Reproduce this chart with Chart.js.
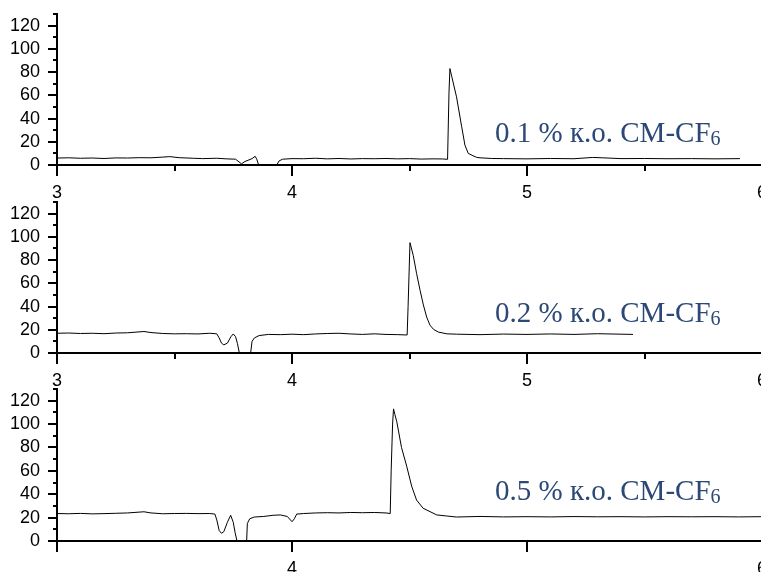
<!DOCTYPE html>
<html lang="ru">
<head>
<meta charset="UTF-8">
<title>Хроматограммы</title>
<script src="https://cdn.jsdelivr.net/npm/chart.js"></script>
<style>
  html, body { margin: 0; padding: 0; background: #fff; }
  body { width: 761px; height: 572px; overflow: hidden; position: relative; }
  canvas { position: absolute; left: 0; }
</style>
</head>
<body>
<canvas id="panel1" width="768" height="200" style="top:0px"></canvas>
<canvas id="panel2" width="768" height="200" style="top:188px"></canvas>
<canvas id="panel3" width="768" height="197" style="top:375px"></canvas>

<script>
// подписи панелей
var labels = ['0.1 % к.о. СМ-CF', '0.2 % к.о. СМ-CF', '0.5 % к.о. СМ-CF'];
var labelSub = '6';

// шкалы
var xMin = 3, xMax = 6;
var yMax = 130;
var yLabelTicks = [0, 20, 40, 60, 80, 100, 120];

// 0.1 %
var x1 = [3.00, 3.05, 3.10, 3.15, 3.20, 3.25, 3.30, 3.35, 3.40, 3.45, 3.48, 3.52, 3.58, 3.62, 3.68, 3.72, 3.76,
  3.785, 3.80, 3.83, 3.843, 3.85, 3.858, 3.87, 3.92, 3.935, 3.945, 3.96,
  4.00, 4.05, 4.10, 4.15, 4.20, 4.25, 4.30, 4.35, 4.40, 4.45, 4.50, 4.55, 4.60, 4.64, 4.662,
  4.668, 4.672, 4.68, 4.70, 4.722, 4.736, 4.75, 4.77, 4.785, 4.80, 4.85, 4.90,
  5.00, 5.10, 5.20, 5.28, 5.32, 5.40, 5.50, 5.60, 5.70, 5.80, 5.906];
var y1 = [6.0, 6.2, 5.8, 6.0, 5.6, 6.1, 6.0, 6.3, 6.2, 6.8, 7.2, 6.3, 5.8, 5.5, 5.8, 5.3, 5.0,
  1.0, 3.0, 5.5, 7.5, 5.0, 0, -8, -8, 0, 3.5, 5.0,
  5.5, 5.4, 5.8, 5.3, 5.6, 5.2, 5.5, 5.4, 5.6, 5.3, 5.5, 5.1, 5.3, 5.2, 4.9,
  62, 83, 76, 58.7, 33, 17, 10, 8, 6.6, 6.2, 5.6, 5.5,
  5.3, 5.6, 5.4, 6.5, 6.2, 5.5, 5.6, 5.4, 5.5, 5.3, 5.5];

// 0.2 %
var x2 = [3.00, 3.05, 3.10, 3.15, 3.20, 3.25, 3.30, 3.37, 3.40, 3.45, 3.50, 3.55, 3.60, 3.65, 3.68,
  3.69, 3.70, 3.71, 3.725, 3.74, 3.75, 3.76, 3.768, 3.776, 3.79, 3.815, 3.824, 3.83, 3.84, 3.86, 3.90,
  3.95, 4.00, 4.05, 4.10, 4.15, 4.20, 4.25, 4.30, 4.35, 4.40, 4.45, 4.49,
  4.494, 4.502, 4.516, 4.53, 4.545, 4.559, 4.573, 4.587, 4.602, 4.623, 4.659,
  4.70, 4.80, 4.90, 5.00, 5.10, 5.20, 5.30, 5.40, 5.451];
var y2 = [17.0, 17.2, 16.8, 17.0, 16.6, 17.2, 17.4, 18.5, 17.6, 16.8, 16.5, 16.6, 16.4, 17.0, 16.5,
  13, 8.5, 7, 8.5, 14, 16.4, 14, 8, 0, -10, -10, 0, 10, 13, 15, 16,
  15.8, 16.2, 15.8, 16.4, 16.8, 17.0, 16.4, 16.0, 16.5, 16.0, 15.8, 15.5,
  40, 95, 84, 68.6, 54, 41.4, 31, 24, 20.4, 18, 16.5,
  16.2, 15.8, 16.3, 16.0, 16.4, 16.0, 16.6, 16.2, 16.0];

// 0.5 %
var x3 = [3.00, 3.05, 3.10, 3.15, 3.20, 3.25, 3.30, 3.37, 3.40, 3.45, 3.50, 3.55, 3.60, 3.65, 3.672,
  3.68, 3.69, 3.70, 3.71, 3.725, 3.739, 3.75, 3.758, 3.766, 3.78, 3.80, 3.807, 3.81, 3.82, 3.84, 3.88,
  3.92, 3.95, 3.98, 4.00, 4.01, 4.02, 4.05, 4.10, 4.15, 4.20, 4.25, 4.30, 4.35, 4.40, 4.418,
  4.422, 4.428, 4.432, 4.438, 4.446, 4.466, 4.488, 4.509, 4.53, 4.558, 4.616, 4.657,
  4.70, 4.80, 4.90, 5.00, 5.10, 5.20, 5.30, 5.40, 5.50, 5.60, 5.70, 5.80, 5.90, 6.00];
var y3 = [23.5, 23.3, 23.6, 23.2, 23.4, 23.7, 24.0, 25.0, 24.0, 23.3, 23.5, 23.6, 23.4, 23.5, 23.0,
  18, 9, 6.6, 8, 16, 22, 16, 7, 0, -10, -10, 0, 15, 19, 20.5, 21,
  22, 22.3, 21, 16.5, 19, 23, 23.5, 24.0, 24.2, 24.0, 24.4, 24.2, 24.4, 24.0, 23.5,
  60, 100, 113, 108, 102, 80, 64, 47, 35, 28, 22.3, 21.4,
  20.5, 21.0, 20.6, 20.8, 20.6, 20.9, 20.7, 20.8, 20.6, 20.8, 20.7, 20.8, 20.6, 20.8];

function toPoints(xs, ys) {
  var pts = [];
  for (var i = 0; i < xs.length; i++) {
    pts.push({ x: xs[i], y: ys[i] });
  }
  return pts;
}

// засечки осей (большие и малые разной длины)
var tickMarks = {
  id: 'tickMarks',
  afterDraw: function (chart, args, opts) {
    var ctx = chart.ctx;
    var xs = chart.scales.x, ys = chart.scales.y;
    var area = chart.chartArea;
    ctx.save();
    ctx.strokeStyle = '#000';
    ctx.lineWidth = 2;
    ctx.beginPath();
    ys.ticks.forEach(function (t) {
      var py = Math.round(ys.getPixelForValue(t.value));
      var len = yLabelTicks.indexOf(t.value) >= 0 ? 9 : 4;
      ctx.moveTo(area.left - len, py);
      ctx.lineTo(area.left, py);
    });
    xs.ticks.forEach(function (t) {
      var px = Math.round(xs.getPixelForValue(t.value));
      var major = Math.abs(t.value - Math.round(t.value)) < 1e-6;
      if (!major && !opts.minor) return;
      ctx.moveTo(px, area.bottom);
      ctx.lineTo(px, area.bottom + (major ? 11 : 6));
    });
    ctx.stroke();
    ctx.restore();
  }
};

// подпись с нижним индексом
var panelLabel = {
  id: 'panelLabel',
  afterDraw: function (chart, args, opts) {
    var ctx = chart.ctx;
    ctx.save();
    ctx.fillStyle = '#2c4876';
    ctx.textBaseline = 'alphabetic';
    ctx.textAlign = 'left';
    ctx.font = '29px "Liberation Serif", "Times New Roman", serif';
    ctx.fillText(opts.text, opts.x, opts.y);
    var w = ctx.measureText(opts.text).width;
    ctx.font = '20px "Liberation Serif", "Times New Roman", serif';
    ctx.fillText(labelSub, opts.x + w, opts.y + 3);
    ctx.restore();
  }
};

function makeChart(id, xs, ys, cfg) {
  return new Chart(document.getElementById(id), {
    type: 'line',
    data: {
      datasets: [{
        data: toPoints(xs, ys),
        borderColor: '#000',
        borderWidth: 1,
        pointRadius: 0,
        tension: 0,
        clip: 0
      }]
    },
    options: {
      responsive: false,
      animation: false,
      events: [],
      layout: { padding: { top: 14, right: 6, left: 0, bottom: 0 } },
      plugins: {
        legend: { display: false },
        tooltip: { enabled: false },
        tickMarks: { minor: cfg.minor },
        panelLabel: { text: cfg.text, x: 495, y: cfg.labelY }
      },
      scales: {
        x: {
          type: 'linear',
          min: xMin,
          max: xMax,
          afterFit: function (s) {
            s.height = cfg.axisH;
            s.paddingLeft = 0;
            s.paddingRight = 0;
          },
          grid: { display: false, drawTicks: false },
          border: { display: true, color: '#000', width: 2 },
          ticks: {
            stepSize: 0.5,
            autoSkip: false,
            maxRotation: 0,
            padding: 17,
            color: '#000',
            font: { family: '"Liberation Sans", Arial, sans-serif', size: 18 },
            callback: function (v) {
              if (Math.abs(v - Math.round(v)) > 1e-6) return '';
              if (cfg.xShow && cfg.xShow.indexOf(v) < 0) return '';
              return String(v);
            }
          }
        },
        y: {
          min: 0,
          max: yMax,
          afterFit: function (s) {
            s.width = 57;
            s.paddingTop = 0;
            s.paddingBottom = 0;
          },
          grid: { display: false, drawTicks: false },
          border: { display: true, color: '#000', width: 2 },
          ticks: {
            stepSize: 10,
            autoSkip: false,
            padding: 17,
            color: '#000',
            font: { family: '"Liberation Sans", Arial, sans-serif', size: 18 },
            callback: function (v) {
              return yLabelTicks.indexOf(v) >= 0 ? String(v) : '';
            }
          }
        }
      }
    },
    plugins: [tickMarks, panelLabel]
  });
}

makeChart('panel1', x1, y1, { text: labels[0], labelY: 142, axisH: 35, minor: true });
makeChart('panel2', x2, y2, { text: labels[1], labelY: 134, axisH: 35, minor: true });
makeChart('panel3', x3, y3, { text: labels[2], labelY: 125, axisH: 31, minor: false, xShow: [4, 6] });
</script>
</body>
</html>
